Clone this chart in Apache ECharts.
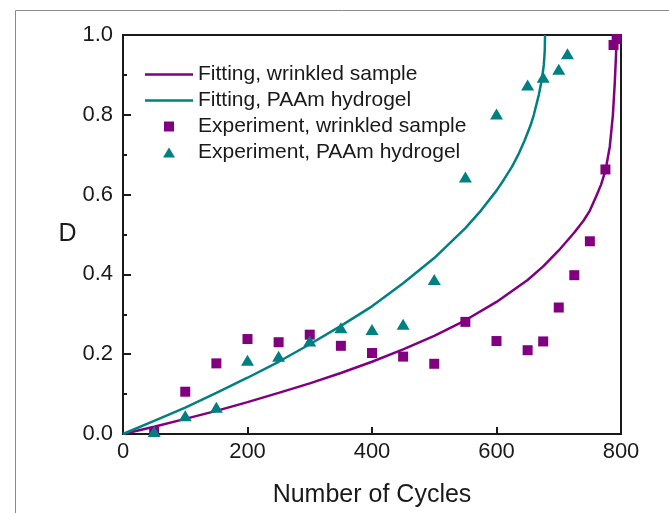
<!DOCTYPE html>
<html>
<head>
<meta charset="utf-8">
<script src="https://cdn.jsdelivr.net/npm/echarts@6/dist/echarts.min.js"></script>
<style>
html,body{margin:0;padding:0;background:#fff;}
#c{width:669px;height:513px;}
</style>
</head>
<body>
<div id="c"></div>
<script>
// ---- data ----
var seriesNames = ['Fitting, wrinkled sample', 'Fitting, PAAm hydrogel', 'Experiment, wrinkled sample', 'Experiment, PAAm hydrogel'];

var fitWrinkledN = [0, 50, 100, 150, 200, 250, 300, 350, 400, 450, 500, 550, 600, 650, 675, 700, 725, 740, 750, 760, 768, 775, 782, 787, 790, 792, 793];
var fitWrinkledD = [0, 0.018, 0.038, 0.058, 0.080, 0.103, 0.127, 0.153, 0.181, 0.212, 0.246, 0.285, 0.331, 0.386, 0.420, 0.460, 0.505, 0.535, 0.560, 0.595, 0.625, 0.660, 0.720, 0.800, 0.880, 0.950, 1.0];

var fitHydrogelN = [0, 50, 100, 150, 200, 250, 300, 350, 400, 450, 500, 550, 575, 600, 612, 625, 635, 645, 655, 660, 668, 673, 676, 677.5, 678];
var fitHydrogelD = [0, 0.033, 0.066, 0.103, 0.141, 0.181, 0.225, 0.271, 0.320, 0.378, 0.441, 0.516, 0.560, 0.610, 0.638, 0.670, 0.700, 0.735, 0.775, 0.800, 0.850, 0.890, 0.925, 0.960, 1.0];

var expWrinkledN = [50, 100, 150, 200, 250, 300, 350, 400, 450, 500, 550, 600, 650, 675, 700, 725, 750, 775, 788, 793];
var expWrinkledD = [0.005, 0.106, 0.177, 0.238, 0.230, 0.249, 0.221, 0.203, 0.194, 0.176, 0.281, 0.233, 0.210, 0.232, 0.317, 0.398, 0.483, 0.663, 0.975, 0.990];

var expHydrogelN = [50, 100, 150, 200, 250, 300, 350, 400, 450, 500, 550, 600, 650, 675, 700, 714];
var expHydrogelD = [0.006, 0.046, 0.067, 0.185, 0.195, 0.233, 0.266, 0.262, 0.275, 0.387, 0.644, 0.802, 0.875, 0.894, 0.914, 0.953];

var xTicks = [0, 200, 400, 600, 800];
var yTicks = [0.0, 0.2, 0.4, 0.6, 0.8, 1.0];

function pairs(xs, ys) { return xs.map(function (x, i) { return [x, ys[i]]; }); }

var PURPLE = '#800080', TEAL = '#008080';
var FONT = '"Liberation Sans", Arial, sans-serif';
var ICON_LINE = 'path://M0,0 L48,0 L48,2.5 L0,2.5 Z';
var ICON_SQUARE = 'path://M0,0 L10,0 L10,10 L0,10 Z';
var ICON_TRI = 'path://M6,0 L12,10 L0,10 Z';

var chart = echarts.init(document.getElementById('c'), null, {renderer: 'canvas'});
chart.setOption({
  animation: false,
  backgroundColor: '#fff',
  textStyle: {fontFamily: FONT},
  graphic: [{
    type: 'rect', left: 13, top: 8, silent: true,
    shape: {width: 654, height: 520},
    style: {fill: 'none', stroke: '#8a8a8a', lineWidth: 1}
  }],
  grid: {left: 123, right: 48, top: 35, bottom: 77, show: true, borderColor: '#1a1a1a', borderWidth: 2, backgroundColor: 'transparent'},
  legend: {
    orient: 'vertical', left: 145, top: 64, padding: 0,
    itemWidth: 48, itemHeight: 10, itemGap: 5, symbolKeepAspect: true,
    textStyle: {fontSize: 21, color: '#1a1a1a', fontFamily: FONT},
    data: [
      {name: seriesNames[0], icon: ICON_LINE},
      {name: seriesNames[1], icon: ICON_LINE},
      {name: seriesNames[2], icon: ICON_SQUARE},
      {name: seriesNames[3], icon: ICON_TRI}
    ]
  },
  xAxis: {
    type: 'value', min: xTicks[0], max: xTicks[xTicks.length - 1], interval: 200,
    name: 'Number of Cycles', nameLocation: 'middle', nameGap: 49,
    nameTextStyle: {fontSize: 25, color: '#1a1a1a', fontFamily: FONT},
    axisLine: {show: true, lineStyle: {color: '#1a1a1a', width: 2}},
    axisTick: {show: true, inside: true, length: 7, lineStyle: {color: '#1a1a1a', width: 2}},
    minorTick: {show: false},
    axisLabel: {fontSize: 22, color: '#1a1a1a', margin: 7, fontFamily: FONT},
    splitLine: {show: false}
  },
  yAxis: {
    type: 'value', min: yTicks[0], max: yTicks[yTicks.length - 1], interval: 0.2,
    name: 'D', nameLocation: 'middle', nameGap: 46, nameRotate: 0,
    nameTextStyle: {fontSize: 25, color: '#1a1a1a', fontFamily: FONT},
    axisLine: {show: true, lineStyle: {color: '#1a1a1a', width: 2}},
    axisTick: {show: true, inside: true, length: 8, lineStyle: {color: '#1a1a1a', width: 2}},
    minorTick: {show: true, splitNumber: 2, length: 4, lineStyle: {color: '#1a1a1a', width: 2}},
    axisLabel: {fontSize: 22, color: '#1a1a1a', margin: 10, fontFamily: FONT,
      formatter: function (v) { return v.toFixed(1); }},
    splitLine: {show: false}
  },
  series: [
    {name: seriesNames[0], type: 'line', data: pairs(fitWrinkledN, fitWrinkledD), showSymbol: false, symbol: 'none',
     smooth: false, lineStyle: {color: PURPLE, width: 2.5}, itemStyle: {color: PURPLE}, z: 3},
    {name: seriesNames[1], type: 'line', data: pairs(fitHydrogelN, fitHydrogelD), showSymbol: false, symbol: 'none',
     smooth: false, lineStyle: {color: TEAL, width: 2.5}, itemStyle: {color: TEAL}, z: 3},
    {name: seriesNames[2], type: 'scatter', data: pairs(expWrinkledN, expWrinkledD), symbol: 'rect', symbolSize: 10,
     itemStyle: {color: PURPLE, opacity: 1}, z: 4},
    {name: seriesNames[3], type: 'scatter', data: pairs(expHydrogelN, expHydrogelD), symbol: 'triangle', symbolSize: [13, 11],
     itemStyle: {color: TEAL, opacity: 1}, z: 4}
  ]
});
</script>
</body>
</html>
